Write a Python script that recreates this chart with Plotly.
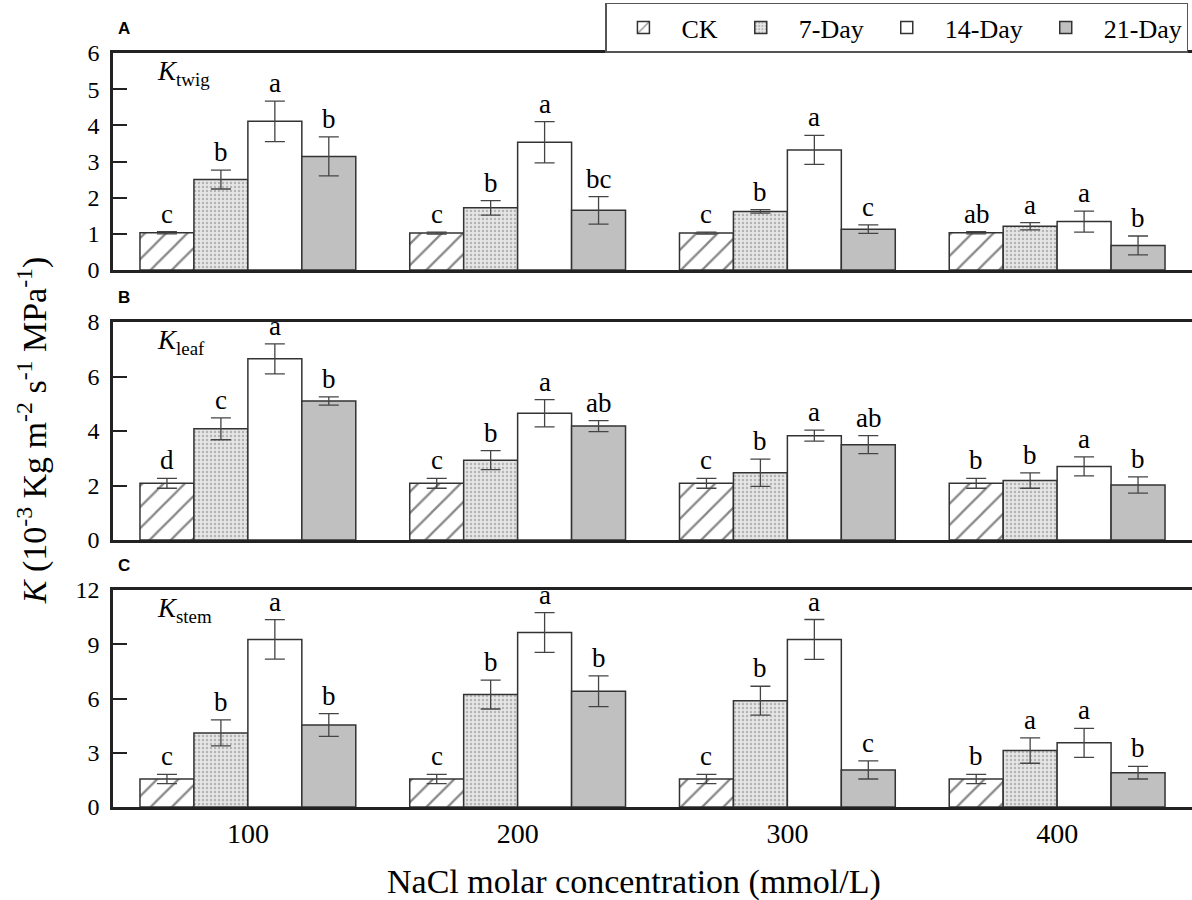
import plotly.graph_objects as go

groups = ["100", "200", "300", "400"]
series = ["CK", "7-Day", "14-Day", "21-Day"]

# Panel A: K_twig
twig_vals = {"CK": [1.03, 1.02, 1.02, 1.03],
             "7-Day": [2.50, 1.72, 1.62, 1.21],
             "14-Day": [4.11, 3.53, 3.32, 1.34],
             "21-Day": [3.14, 1.65, 1.13, 0.68]}
twig_err = {"CK": [0.03, 0.03, 0.03, 0.03],
            "7-Day": [0.26, 0.20, 0.05, 0.10],
            "14-Day": [0.56, 0.57, 0.40, 0.29],
            "21-Day": [0.54, 0.38, 0.12, 0.26]}
twig_letters = {"CK": ["c", "c", "c", "ab"],
                "7-Day": ["b", "b", "b", "a"],
                "14-Day": ["a", "a", "a", "a"],
                "21-Day": ["b", "bc", "c", "b"]}

# Panel B: K_leaf
leaf_vals = {"CK": [2.08, 2.08, 2.08, 2.08],
             "7-Day": [4.08, 2.93, 2.47, 2.18],
             "14-Day": [6.65, 4.65, 3.83, 2.70],
             "21-Day": [5.10, 4.18, 3.50, 2.02]}
leaf_err = {"CK": [0.18, 0.18, 0.18, 0.18],
            "7-Day": [0.40, 0.35, 0.50, 0.28],
            "14-Day": [0.55, 0.50, 0.20, 0.35],
            "21-Day": [0.15, 0.20, 0.33, 0.30]}
leaf_letters = {"CK": ["d", "c", "c", "b"],
                "7-Day": ["c", "b", "b", "b"],
                "14-Day": ["a", "a", "a", "a"],
                "21-Day": ["b", "ab", "ab", "b"]}

# Panel C: K_stem
stem_vals = {"CK": [1.55, 1.55, 1.55, 1.55],
             "7-Day": [4.10, 6.22, 5.88, 3.12],
             "14-Day": [9.27, 9.65, 9.27, 3.55],
             "21-Day": [4.54, 6.40, 2.05, 1.90]}
stem_err = {"CK": [0.26, 0.26, 0.26, 0.26],
            "7-Day": [0.72, 0.80, 0.80, 0.70],
            "14-Day": [1.09, 1.10, 1.10, 0.80],
            "21-Day": [0.63, 0.85, 0.50, 0.35]}
stem_letters = {"CK": ["c", "c", "c", "b"],
                "7-Day": ["b", "b", "b", "a"],
                "14-Day": ["a", "a", "a", "a"],
                "21-Day": ["b", "b", "c", "b"]}

panels = [
    ("A", "twig", twig_vals, twig_err, twig_letters, [0, 6], 1),
    ("B", "leaf", leaf_vals, leaf_err, leaf_letters, [0, 8], 2),
    ("C", "stem", stem_vals, stem_err, stem_letters, [0, 12], 3),
]
domains = {1: [0.700, 0.9411], 2: [0.400, 0.6422], 3: [0.1033, 0.3444]}
dticks = {1: 1, 2: 2, 3: 3}

SERIF = "Liberation Serif"
SANS = "Liberation Sans"
styles = {
    "CK": dict(color="white", pattern=dict(shape="/", size=15, solidity=0.15,
                                           fgcolor="#111111", bgcolor="white", fillmode="overlay")),
    "7-Day": dict(color="#dcdcdc", pattern=dict(shape=".", size=4, solidity=0.3,
                                                fgcolor="#b4b4b4", bgcolor="#e6e6e6", fillmode="replace")),
    "14-Day": dict(color="white"),
    "21-Day": dict(color="#c0c0c0"),
}

xnum = [1, 2, 3, 4]
fig = go.Figure()
annotations = []
nser = len(series)
barw = 0.8 / nser

for label, sub, vals, errs, letters, yr, idx in panels:
    xa = "x" if idx == 1 else f"x{idx}"
    ya = "y" if idx == 1 else f"y{idx}"
    for si, s in enumerate(series):
        st = styles[s]
        marker = dict(color=st["color"], line=dict(color="#333333", width=1.5))
        if "pattern" in st:
            marker["pattern"] = st["pattern"]
        fig.add_trace(go.Bar(
            x=xnum, y=vals[s], name=s, legendgroup=s, showlegend=(idx == 1),
            marker=marker, xaxis=xa, yaxis=ya,
            error_y=dict(type="data", array=errs[s], visible=True,
                         color="#444444", thickness=1.3, width=10),
        ))
        off = (si - (nser - 1) / 2) * barw
        for gi in range(len(groups)):
            annotations.append(dict(
                x=xnum[gi] + off, y=vals[s][gi] + errs[s][gi], xref=xa, yref=ya,
                text=letters[s][gi], showarrow=False, yanchor="bottom", yshift=1,
                font=dict(family=SERIF, size=27, color="black")))
    # panel letter
    annotations.append(dict(x=0.003, y=domains[idx][1], xref="paper", yref="paper",
                            text=f"<b>{label}</b>", showarrow=False, xanchor="left",
                            yanchor="bottom", yshift=13,
                            font=dict(family=SANS, size=17, color="black")))
    # inner label
    annotations.append(dict(x=0.039, y=domains[idx][1], xref="paper", yref="paper",
                            text=f"<i>K</i><sub>{sub}</sub>", showarrow=False, xanchor="left",
                            yanchor="top", yshift=-1,
                            font=dict(family=SERIF, size=27, color="black")))

# y axis title
annotations.append(dict(x=-0.075, y=0.522, xref="paper", yref="paper", textangle=-90,
                        text="<i>K</i> (10<sup>-3</sup> Kg m<sup>-2</sup> s<sup>-1</sup> MPa<sup>-1</sup>)",
                        showarrow=False, xanchor="center", yanchor="middle",
                        font=dict(family=SERIF, size=34, color="black")))
# x axis title
annotations.append(dict(x=(634 - 113) / 1079, y=18 / 900, xref="paper", yref="paper",
                        text="NaCl molar concentration (mmol/L)",
                        showarrow=False, xanchor="center", yanchor="middle",
                        font=dict(family=SERIF, size=34, color="black")))

layout = dict(
    width=1192, height=900,
    margin=dict(l=113, r=0, t=0, b=0, autoexpand=False),
    paper_bgcolor="white", plot_bgcolor="white",
    barmode="group", bargap=0.2, bargroupgap=0,
    font=dict(family=SERIF, size=22, color="black"),
    legend=dict(orientation="h", x=0.997, xanchor="right", y=0.997, yanchor="top",
                xref="container", yref="container",
                bordercolor="#555555", borderwidth=1.5, bgcolor="white",
                font=dict(family=SERIF, size=26, color="black"),
                itemwidth=66, tracegroupgap=0),
    annotations=annotations,
)
for idx in (1, 2, 3):
    xk = "xaxis" if idx == 1 else f"xaxis{idx}"
    yk = "yaxis" if idx == 1 else f"yaxis{idx}"
    ya_anchor = "y" if idx == 1 else f"y{idx}"
    xa_anchor = "x" if idx == 1 else f"x{idx}"
    yr = panels[idx - 1][5]
    layout[xk] = dict(domain=[0, 1], anchor=ya_anchor, range=[0.5, 4.5], automargin=False,
                      tickvals=xnum, ticktext=groups, showticklabels=(idx == 3),
                      ticks="", showline=True, mirror=True, linecolor="#222222", linewidth=2.5,
                      showgrid=False, zeroline=False,
                      tickfont=dict(family=SERIF, size=28, color="black"))
    layout[yk] = dict(domain=domains[idx], anchor=xa_anchor, range=yr, dtick=dticks[idx],
                      automargin=False,
                      ticks="inside", ticklen=14, tickwidth=2, tickcolor="#222222",
                      showline=True, linecolor="#222222", linewidth=2.5,
                      showgrid=False, zeroline=False, ticklabelstandoff=6,
                      tickfont=dict(family=SERIF, size=24, color="black"))

fig.update_layout(**layout)
fig.write_html("out.html")
